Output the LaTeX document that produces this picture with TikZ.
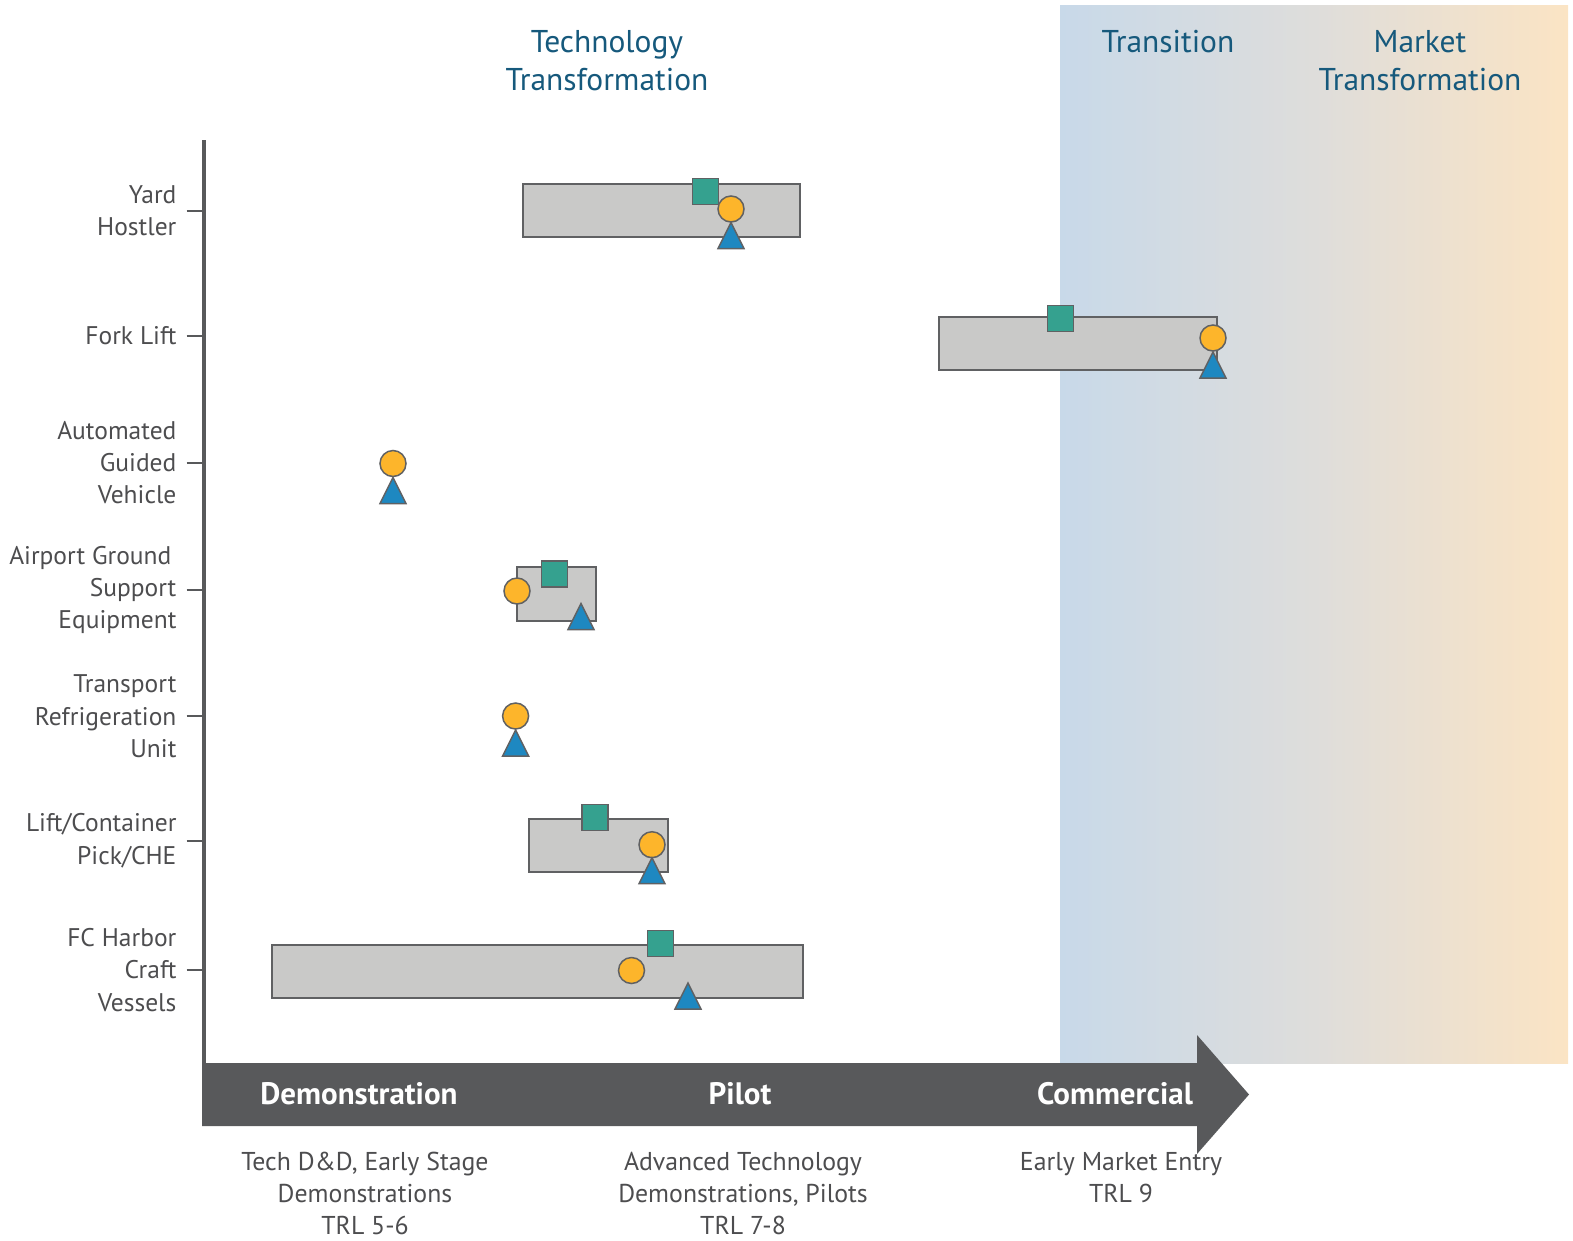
\documentclass[tikz,border=0pt]{standalone}
\usepackage{fontspec}
\setmainfont{PT Sans}
\definecolor{boxfill}{HTML}{C9C9C8}
\definecolor{boxline}{HTML}{606163}
\definecolor{mteal}{HTML}{35A18F}
\definecolor{morange}{HTML}{FDB52B}
\definecolor{mblue}{HTML}{1E88C1}
\definecolor{axisgray}{HTML}{58595B}
\definecolor{labelgray}{HTML}{4D4D4F}
\definecolor{titleblue}{HTML}{16597C}
\definecolor{gradA}{HTML}{C8D9E9}
\definecolor{gradB}{HTML}{DEDDDB}
\definecolor{gradC}{HTML}{FBE4C4}
\tikzset{
  barbox/.style={draw=boxline, line width=2pt, fill=boxfill, rectangle, anchor=north west, inner sep=0pt},
  sqmark/.style={draw=boxline, line width=1.5pt, fill=mteal, rectangle, minimum size=26pt, inner sep=0pt},
  dotmark/.style={draw=boxline, line width=1.5pt, fill=morange, circle, minimum size=26pt, inner sep=0pt},
  triline/.style={draw=boxline, line width=1.5pt, fill=mblue, line join=miter},
  tripic/.pic={\path[triline] (0,0) -- (13,26) -- (-13,26) -- cycle;},
  rowlabel/.style={anchor=east, align=right, text=labelgray, font=\fontsize{25.5}{32.1}\selectfont, inner sep=0pt},
  titletext/.style={align=center, text=titleblue, font=\fontsize{31.5}{38}\selectfont, inner sep=0pt},
  stagetext/.style={text=white, font=\fontsize{31}{34}\selectfont\bfseries, inner sep=0pt},
  subtext/.style={align=center, anchor=north, text=labelgray, font=\fontsize{25.8}{32.1}\selectfont, inner sep=0pt},
  tickline/.style={draw=axisgray, line width=2pt},
}
\begin{document}
\begin{tikzpicture}[x=1pt,y=-1pt]
\useasboundingbox (0,0) rectangle (1573,1240);
% gradient band
\path[shading=axis, shading angle=90, left color=gradA, right color=gradC, middle color=gradB] (1060,5) rectangle (1568,1063);
% titles
\node[titletext] (t1) at (607,61) {Technology\\Transformation};
\node[titletext] (t2) at (1168,42) {Transition};
\node[titletext] (t3) at (1420,61) {Market\\Transformation};
% axis
\coordinate (axtop) at (203.6,140);
\coordinate (axbot) at (203.6,1064);
\draw[axisgray, line width=4pt] (axtop) -- (axbot);
% arrow
\fill[axisgray] (202,1063) -- (1197,1063) -- (1197,1035) -- (1249,1094.5) -- (1197,1154) -- (1197,1126) -- (202,1126) -- cycle;
\node[stagetext] (s1) at (359,1094) {Demonstration};
\node[stagetext] (s2) at (740,1094) {Pilot};
\node[stagetext] (s3) at (1115,1094) {Commercial};
\node[subtext] (d1) at (365,1152) {Tech D\&D, Early Stage\\Demonstrations\\TRL 5-6};
\node[subtext] (d2) at (743,1152) {Advanced Technology\\Demonstrations, Pilots\\TRL 7-8};
\node[subtext] (d3) at (1121,1152) {Early Market Entry\\TRL 9};
% row labels and ticks
\foreach \nm/\yy/\txt in {r1/210.7/{Yard\\Hostler}, r2/336/{Fork Lift}, r3/462.5/{Automated\\Guided\\Vehicle}, r4/590/{Airport Ground\hspace*{5pt}\\Support\\Equipment}, r5/716.3/{Transport\\Refrigeration\\Unit}, r6/840.7/{Lift/Container\\Pick/CHE}, r7/970/{FC Harbor\\Craft\\Vessels}}{
  \node[rowlabel] (\nm) at (176.6,\yy) {\txt};
  \coordinate (\nm tick) at (186.5,\yy);
  \draw[tickline] (\nm tick) -- (axtop |- \nm tick);
}
% Yard Hostler
\node[barbox, minimum width=277pt, minimum height=53pt] (b1) at (522,183) {};
\node[sqmark] (q1) at (705.5,191.5) {};
\node[dotmark] (c1) at (731,209) {};
\pic at (731,222.5) {tripic};
% Fork Lift
\node[barbox, minimum width=278pt, minimum height=53pt] (b2) at (938,316) {};
\node[sqmark] (q2) at (1060.5,318.5) {};
\node[dotmark] (c2) at (1213,338) {};
\pic at (1213,352) {tripic};
% AGV
\node[dotmark] (c3) at (393,463.5) {};
\pic at (393,477.5) {tripic};
% Airport
\node[barbox, minimum width=79pt, minimum height=54pt] (b4) at (516,566) {};
\node[sqmark] (q4) at (554.5,574) {};
\node[dotmark] (c4) at (517,591) {};
\pic at (581,603.5) {tripic};
% TRU
\node[dotmark] (c5) at (515.6,716) {};
\pic at (515.6,730) {tripic};
% Lift/Container
\node[barbox, minimum width=139pt, minimum height=53pt] (b6) at (527.7,817.6) {};
\node[sqmark] (q6) at (595,817.6) {};
\node[dotmark] (c6) at (652,844.7) {};
\pic at (652,857.7) {tripic};
% FC Harbor
\node[barbox, minimum width=530.5pt, minimum height=53pt] (b7) at (271,944) {};
\node[sqmark] (q7) at (660.5,943.5) {};
\node[dotmark] (c7) at (631.5,970.5) {};
\pic at (688,983) {tripic};
\end{tikzpicture}
\end{document}
